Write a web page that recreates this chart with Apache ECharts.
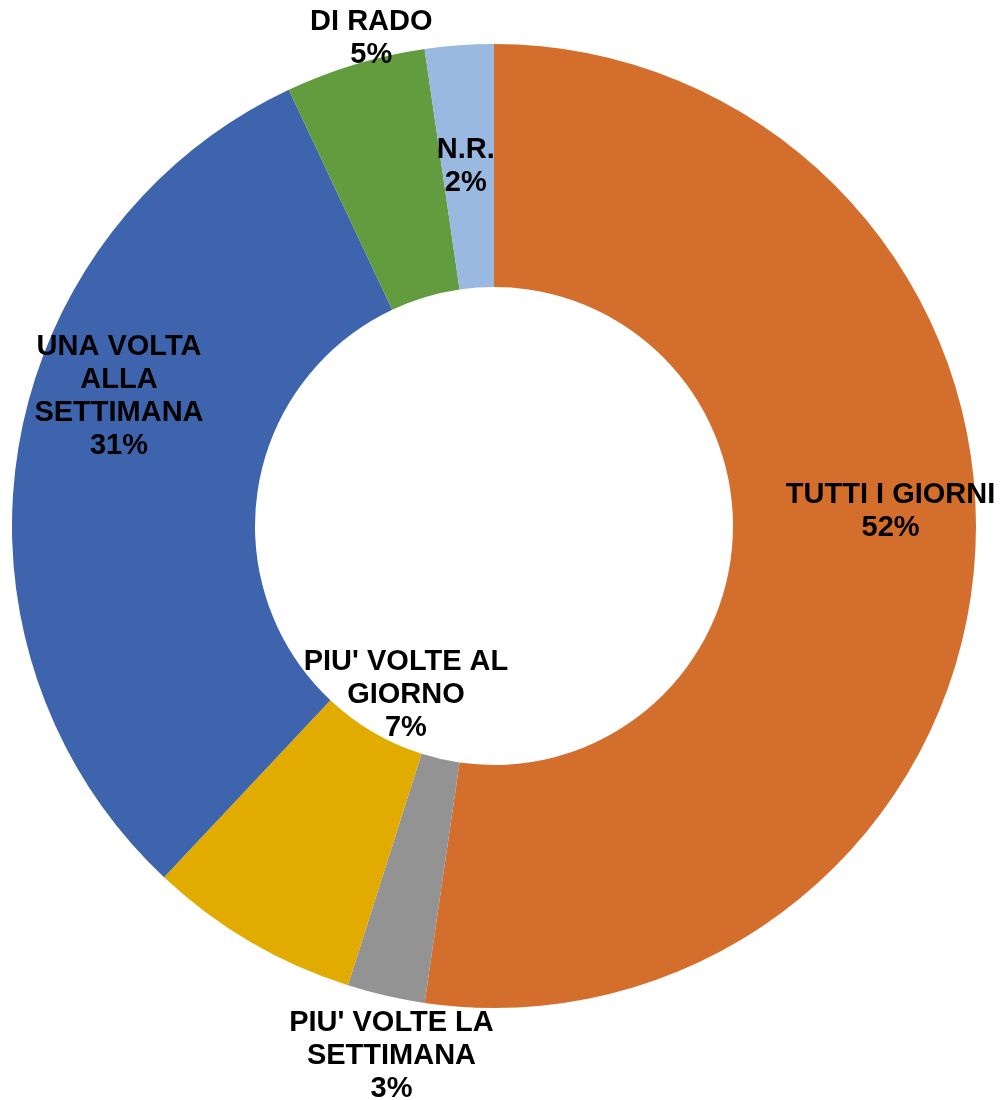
<!DOCTYPE html>
<html>
<head>
<meta charset="utf-8">
<script src="https://cdn.jsdelivr.net/npm/echarts@6/dist/echarts.min.js"></script>
<style>
html,body{margin:0;padding:0;background:#fff;}
#chart{width:1003px;height:1100px;}
</style>
</head>
<body>
<div id="chart"></div>
<script>
// Data
var categories = ["TUTTI I GIORNI", "PIU' VOLTE LA SETTIMANA", "PIU' VOLTE AL GIORNO", "UNA VOLTA ALLA SETTIMANA", "DI RADO", "N.R."];
var values = [52.3, 2.6, 7.1, 31.0, 4.7, 2.3];

// Styles
var colors = ["#D36E2C", "#939393", "#E2AB00", "#3D64AD", "#629C3F", "#9AB9E0"];
var labelBreaks = {
  "TUTTI I GIORNI": "TUTTI I GIORNI",
  "PIU' VOLTE LA SETTIMANA": "PIU' VOLTE LA\nSETTIMANA",
  "PIU' VOLTE AL GIORNO": "PIU' VOLTE AL\nGIORNO",
  "UNA VOLTA ALLA SETTIMANA": "UNA VOLTA\nALLA\nSETTIMANA",
  "DI RADO": "DI RADO",
  "N.R.": "N.R."
};
var labelShift = [[34, -41], [-21, 176], [96, -144], [-16, -73], [-18, -139], [-2, 3]];

var total = values.reduce(function (a, b) { return a + b; }, 0);

var chart = echarts.init(document.getElementById('chart'), null, {renderer: 'canvas'});
chart.setOption({
  animation: false,
  backgroundColor: '#ffffff',
  series: [{
    type: 'pie',
    center: [494, 526],
    radius: [239, 482],
    startAngle: 90,
    clockwise: true,
    avoidLabelOverlap: false,
    itemStyle: {borderWidth: 0},
    label: {
      show: true,
      position: 'inside',
      color: '#000000',
      fontFamily: 'Liberation Sans, Arial, sans-serif',
      fontWeight: 'bold',
      fontSize: 29,
      lineHeight: 33,
      align: 'center',
      formatter: function (p) {
        return labelBreaks[p.name] + '\n' + Math.round(p.value / total * 100) + '%';
      }
    },
    labelLine: {show: false},
    labelLayout: function (p) {
      var s = labelShift[p.dataIndex];
      return {dx: s[0], dy: s[1]};
    },
    emphasis: {disabled: true},
    data: categories.map(function (c, i) {
      return {name: c, value: values[i], itemStyle: {color: colors[i]}};
    })
  }]
});
</script>
</body>
</html>
